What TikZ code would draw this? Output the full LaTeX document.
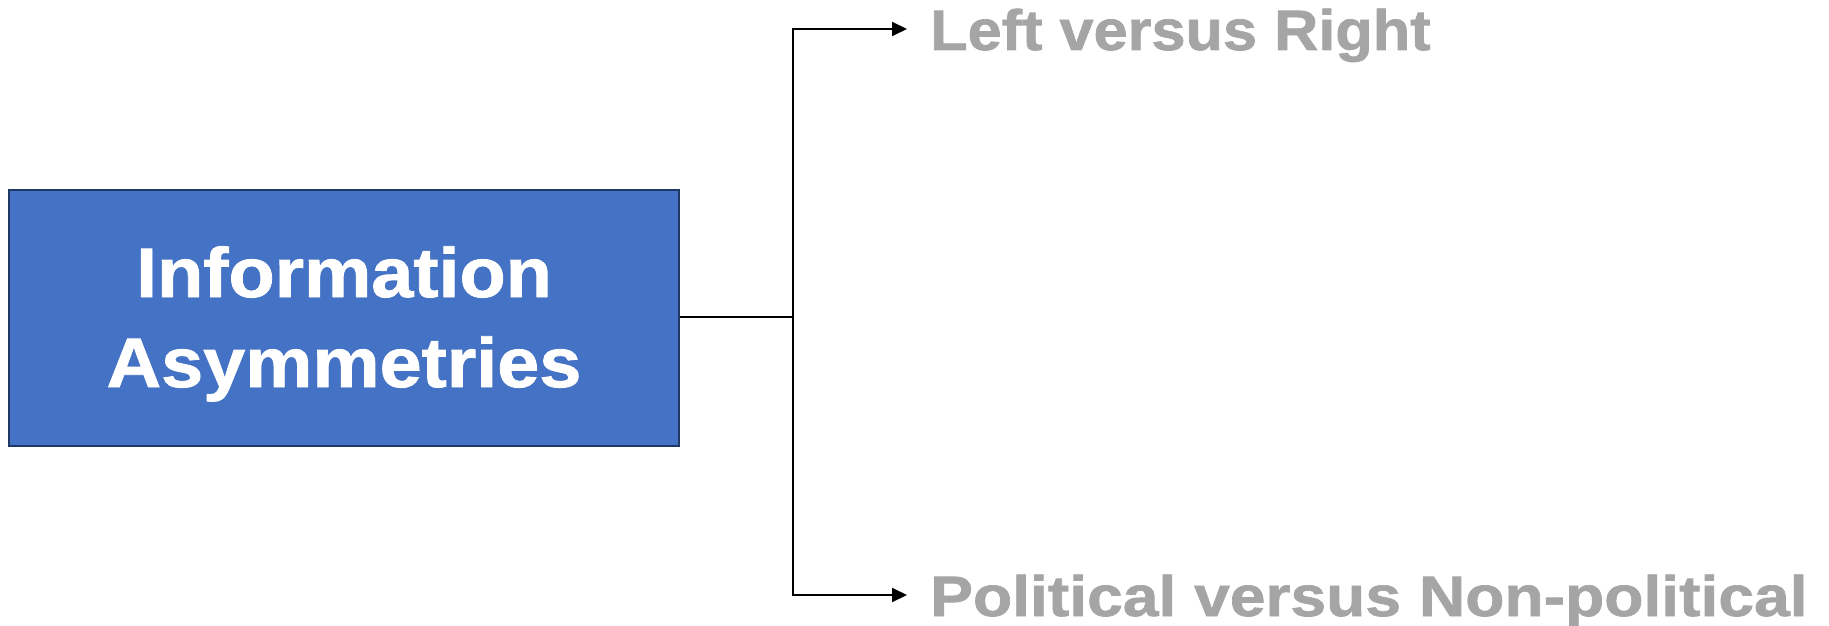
\documentclass[tikz,border=0pt]{standalone}
\usepackage{fontspec}
\setmainfont{Liberation Sans}
\newfontfamily\boxfont{Liberation Sans}[FakeStretch=1.08, FakeBold=1.2]
\newfontfamily\lrfont{Liberation Sans}[FakeStretch=1.075, FakeBold=1.2]
\newfontfamily\pnfont{Liberation Sans}[FakeStretch=1.126, FakeBold=1.2]
\usetikzlibrary{arrows.meta}
\definecolor{boxfill}{HTML}{4472C4}
\definecolor{boxline}{HTML}{1F3864}
\definecolor{labelgrey}{HTML}{A5A5A5}
\tikzset{
  mainbox/.style={draw=boxline, line width=2pt, fill=boxfill, minimum width=670pt, minimum height=256pt, inner sep=0pt},
  boxtext/.style={text=white, font=\boxfont\fontsize{70}{84}\selectfont\bfseries, anchor=base, inner sep=0pt},
  branchlabel/.style={text=labelgrey, font=\fontsize{57}{68}\selectfont\bfseries, anchor=base west, inner sep=0pt},
  conn/.style={line width=2pt, black},
  arr/.style={conn, -{Triangle[length=15pt,width=14pt]}}
}
\begin{document}
\begin{tikzpicture}[x=1pt,y=-1pt]
\useasboundingbox (0,0) rectangle (1829,626);
\node[mainbox] (box) at (344,318) {};
\node[boxtext] (l1) at (344,297) {Information};
\node[boxtext] (l2) at (344,387) {Asymmetries};
\coordinate (j) at (793,317);
\coordinate (e1) at (907,29);
\coordinate (e2) at (907,595);
\node[branchlabel] (lr) at (930,50) {\lrfont\bfseries Left versus Right};
\node[branchlabel] (pn) at (930,616) {\pnfont\bfseries Political versus Non-political};
\draw[conn] (box.east |- j) -- (j);
\draw[arr] (j) |- (e1);
\draw[arr] (j) |- (e2);
\end{tikzpicture}
\end{document}
